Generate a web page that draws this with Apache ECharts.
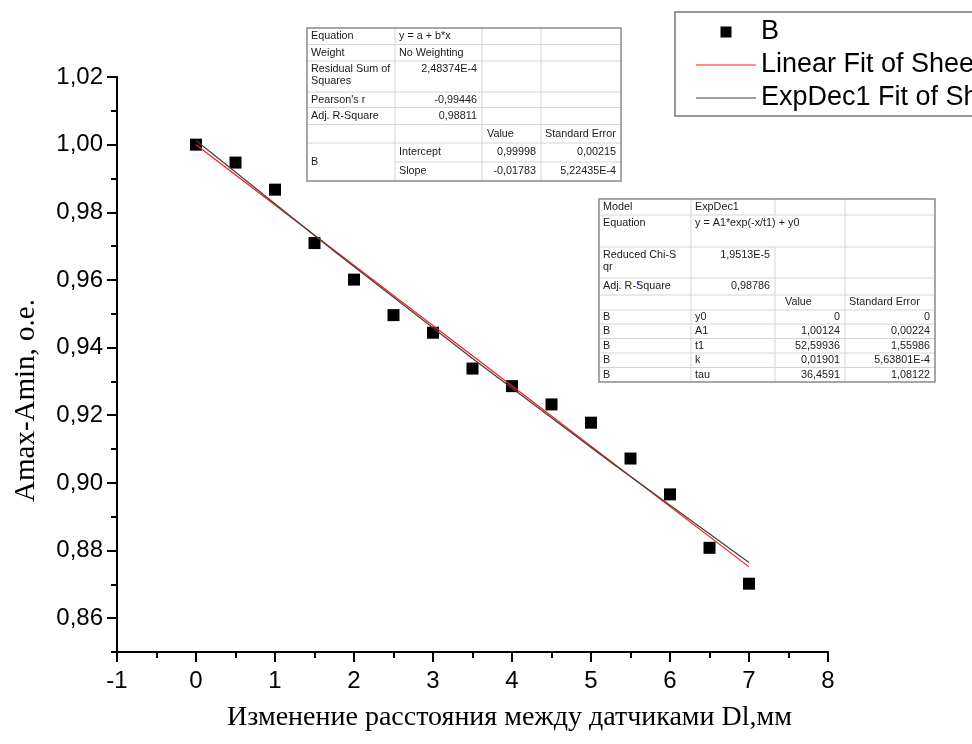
<!DOCTYPE html>
<html>
<head>
<meta charset="utf-8">
<script src="https://cdn.jsdelivr.net/npm/echarts@6/dist/echarts.min.js"></script>
<style>
html, body { margin: 0; padding: 0; background: #fff; }
#main { width: 972px; height: 744px; }
</style>
</head>
<body>
<div id="main"></div>
<script>
// measured points (Dl, Amax-Amin)
var dl = [0, 0.5, 1, 1.5, 2, 2.5, 3, 3.5, 4, 4.5, 5, 5.5, 6, 6.5, 7];
var ampl = [1.000, 0.9947, 0.9867, 0.9709, 0.9601, 0.9496, 0.9444, 0.9338, 0.9286, 0.9232, 0.9178, 0.9072, 0.8966, 0.8808, 0.8702];

// fitted curves
var fitX = [0, 1.75, 3.5, 5.25, 7];
var linFit = [0.99998, 0.96878, 0.93757, 0.90637, 0.87517];
var expFit = [1.00124, 0.96848, 0.93678, 0.90613, 0.87648];

var yMajor = [0.86, 0.88, 0.90, 0.92, 0.94, 0.96, 0.98, 1.00, 1.02];

// result tables (Origin style)
var linRows = [
    ['Equation', 'y = a + b*x', '', ''],
    ['Weight', 'No Weighting', '', ''],
    ['Residual Sum of\nSquares', '2,48374E-4', '', ''],
    ["Pearson's r", '-0,99446', '', ''],
    ['Adj. R-Square', '0,98811', '', ''],
    ['', '', 'Value', 'Standard Error'],
    ['B', 'Intercept', '0,99998', '0,00215'],
    ['', 'Slope', '-0,01783', '5,22435E-4']
];
var expRows = [
    ['Model', 'ExpDec1', '', ''],
    ['Equation', 'y = A1*exp(-x/t1) + y0', '', ''],
    ['Reduced Chi-S\nqr', '1,9513E-5', '', ''],
    ['Adj. R-Square', '0,98786', '', ''],
    ['', '', 'Value', 'Standard Error'],
    ['B', 'y0', '0', '0'],
    ['B', 'A1', '1,00124', '0,00224'],
    ['B', 't1', '52,59936', '1,55986'],
    ['B', 'k', '0,01901', '5,63801E-4'],
    ['B', 'tau', '36,4591', '1,08122']
];

var FONT = '10.8px "Liberation Sans", Arial, sans-serif';

function isNum(s) {
    return /^-?[0-9]/.test(s);
}

// draws a table with graphic elements
function makeTable(data, cols, rows, opt) {
    var els = [];
    var right = cols[cols.length - 1];
    for (var i = 1; i < rows.length - 1; i++) {
        var sc = (opt.hStart && opt.hStart[i]) || 0;
        els.push({ type: 'line', silent: true, shape: { x1: cols[sc], y1: rows[i], x2: right, y2: rows[i] },
            style: { stroke: '#d4d4d4', lineWidth: 1 } });
    }
    for (var j = 1; j < cols.length - 1; j++) {
        for (var r = 0; r < rows.length - 1; r++) {
            if (opt.vSkip && opt.vSkip.indexOf(r + ':' + j) >= 0) continue;
            els.push({ type: 'line', silent: true, shape: { x1: cols[j], y1: rows[r], x2: cols[j], y2: rows[r + 1] },
                style: { stroke: '#d4d4d4', lineWidth: 1 } });
        }
    }
    els.push({ type: 'rect', silent: true, shape: { x: cols[0], y: rows[0], width: right - cols[0], height: rows[rows.length - 1] - rows[0] },
        style: { fill: 'none', stroke: '#8a8a8a', lineWidth: 1.5 } });
    data.forEach(function (row, r) {
        row.forEach(function (txt, c) {
            if (!txt) return;
            var num = c > 0 && isNum(txt);
            var tx = num ? cols[c + 1] - 5 : cols[c] + 4;
            if (txt === 'Value') tx = cols[c] + opt.valuePad;
            var tall = rows[r + 1] - rows[r] > 25;
            var ty = tall ? rows[r] + 2 : (rows[r] + rows[r + 1]) / 2;
            var va = tall ? 'top' : 'middle';
            if (opt.merge && opt.merge[r + ':' + c]) {
                ty = (rows[r] + rows[r + opt.merge[r + ':' + c]]) / 2;
                va = 'middle';
            }
            els.push({ type: 'text', silent: true, x: tx, y: ty,
                style: { text: txt, font: FONT, fill: '#1a1a1a', align: num ? 'right' : 'left', verticalAlign: va, lineHeight: 12 } });
        });
    });
    return els;
}

var tableLin = makeTable(linRows, [307, 395, 482, 541, 621], [28, 44.5, 61, 92, 107.5, 124.5, 143, 162, 181],
    { hStart: { 7: 1 }, merge: { '6:0': 2 }, valuePad: 5 });
var tableExp = makeTable(expRows, [599, 691, 775, 845, 935], [199, 215, 247, 278, 295, 310, 324, 338.5, 353, 367.5, 382],
    { vSkip: ['1:2'], valuePad: 10 });
tableExp.push({ type: 'circle', silent: true, shape: { cx: 638, cy: 282.5, r: 1.2 }, style: { fill: '#3050ff' } });

var myChart = echarts.init(document.getElementById('main'));

var option = {
    animation: false,
    backgroundColor: '#fff',
    textStyle: { fontFamily: '"Liberation Sans", Arial, sans-serif' },
    legend: {
        orient: 'vertical',
        left: 675,
        top: 12,
        padding: [6, 80, 4, 21],
        borderColor: '#777',
        borderWidth: 1.5,
        itemWidth: 60,
        itemHeight: 14,
        itemGap: 5,
        symbolKeepAspect: true,
        selectedMode: false,
        itemStyle: { borderWidth: 0 },
        textStyle: { fontSize: 27, color: '#000', lineHeight: 28, fontFamily: '"Liberation Sans", Arial, sans-serif' },
        data: [
            { name: 'B', icon: 'path://M0,0M60,14M24.5,1.5h11v11h-11z', itemStyle: { color: '#000' } },
            { name: 'Linear Fit of Sheet1 B', icon: 'path://M0,6.5h60v1h-60z', itemStyle: { color: '#ff1a1a' } },
            { name: 'ExpDec1 Fit of Sheet1 B', icon: 'path://M0,6.5h60v1h-60z', itemStyle: { color: '#404040' } }
        ]
    },
    grid: { left: 117, right: 144, top: 77, bottom: 92, outerBoundsMode: 'none' },
    xAxis: {
        type: 'value',
        min: -1,
        max: 8,
        interval: 1,
        name: 'Изменение расстояния между датчиками Dl,мм',
        nameLocation: 'middle',
        nameGap: 52,
        nameTextStyle: { fontFamily: '"Liberation Serif", "Times New Roman", serif', fontSize: 28, color: '#000', padding: [0, 0, 0, 74] },
        axisLine: { onZero: false, lineStyle: { color: '#000', width: 2 } },
        axisTick: { length: 10, lineStyle: { color: '#000', width: 2 } },
        minorTick: { show: true, splitNumber: 2, length: 6, lineStyle: { color: '#000', width: 2 } },
        axisLabel: { fontSize: 24, color: '#000', margin: 17 },
        splitLine: { show: false }
    },
    yAxis: [{
        type: 'value',
        min: 0.85,
        max: 1.02,
        interval: 0.01,
        name: 'Amax-Amin, о.е.',
        nameLocation: 'middle',
        nameGap: 76,
        nameTextStyle: { fontFamily: '"Liberation Serif", "Times New Roman", serif', fontSize: 29, color: '#000', padding: [0, 72, 0, 0] },
        axisLine: { onZero: false, lineStyle: { color: '#000', width: 2 } },
        axisTick: { customValues: yMajor, length: 10, lineStyle: { color: '#000', width: 2 } },
        axisLabel: {
            customValues: yMajor,
            fontSize: 24,
            color: '#000',
            margin: 14,
            formatter: function (v) { return v.toFixed(2).replace('.', ','); }
        },
        splitLine: { show: false }
    }, {
        type: 'value',
        position: 'left',
        min: 0.85,
        max: 1.02,
        interval: 0.01,
        axisLine: { show: false, onZero: false },
        axisTick: { length: 6, lineStyle: { color: '#000', width: 2 } },
        axisLabel: { show: false },
        splitLine: { show: false }
    }],
    graphic: tableLin.concat(tableExp),
    series: [
        {
            name: 'B',
            type: 'scatter',
            symbol: 'rect',
            symbolSize: 12,
            color: '#000',
            itemStyle: { color: '#000', opacity: 1 },
            data: dl.map(function (x, i) { return [x, ampl[i]]; }),
            z: 2
        },
        {
            name: 'Linear Fit of Sheet1 B',
            type: 'line',
            symbol: 'none',
            color: '#ff1a1a',
            lineStyle: { color: '#ff1a1a', width: 1.2 },
            data: fitX.map(function (x, i) { return [x, linFit[i]]; }),
            z: 3
        },
        {
            name: 'ExpDec1 Fit of Sheet1 B',
            type: 'line',
            symbol: 'none',
            color: '#404040',
            lineStyle: { color: '#404040', width: 1.2 },
            data: fitX.map(function (x, i) { return [x, expFit[i]]; }),
            z: 4
        }
    ]
};

myChart.setOption(option);
</script>
</body>
</html>
